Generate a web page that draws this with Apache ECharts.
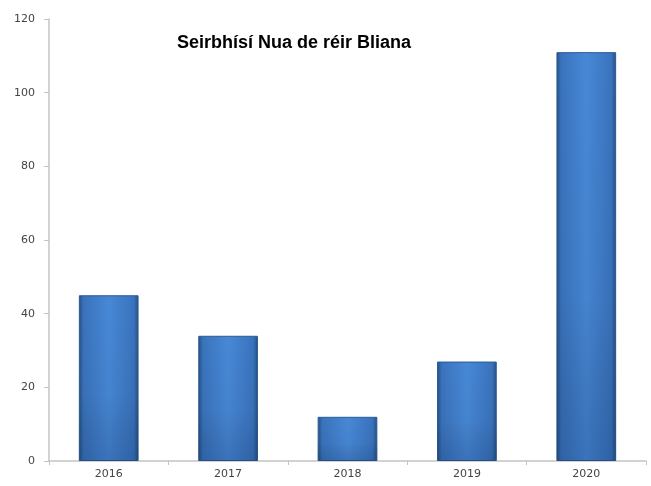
<!DOCTYPE html>
<html>
<head>
<meta charset="utf-8">
<script src="https://cdn.jsdelivr.net/npm/echarts@6/dist/echarts.min.js"></script>
<style>html,body{margin:0;padding:0;background:#fff}#c{width:651px;height:486px}</style>
</head>
<body>
<div id="c"></div>
<script>
var categories = ['2016', '2017', '2018', '2019', '2020'];
var values = [45, 34, 12, 27, 111];
var yTicks = [0, 20, 40, 60, 80, 100, 120];

var chart = echarts.init(document.getElementById('c'));
chart.setOption({
  animation: false,
  backgroundColor: '#fff',
  title: {
    text: 'Seirbhísí Nua de réir Bliana',
    left: 289, top: 29, textAlign: 'center',
    textStyle: {fontFamily: 'Liberation Sans, Arial', fontSize: 18, fontWeight: 'bold', color: '#000'}
  },
  grid: {left: 49, right: 5, top: 19, bottom: 25},
  xAxis: {
    type: 'category', data: categories,
    axisLine: {lineStyle: {color: '#c4c4c4', width: 1.5}},
    axisTick: {show: true, alignWithLabel: false, length: 4, lineStyle: {color: '#c4c4c4'}},
    axisLabel: {color: '#444', fontSize: 11, fontFamily: 'DejaVu Sans', margin: 8}
  },
  yAxis: {
    type: 'value', min: yTicks[0], max: yTicks[yTicks.length - 1], interval: 20,
    axisLine: {show: true, lineStyle: {color: '#c4c4c4', width: 1.5}},
    axisTick: {show: true, length: 5, lineStyle: {color: '#c4c4c4'}},
    splitLine: {show: false},
    axisLabel: {color: '#444', fontSize: 11, fontFamily: 'DejaVu Sans', margin: 14}
  },
  series: [{
    type: 'bar', data: values, barWidth: '50%',
    itemStyle: {
      borderColor: '#2c5a94', borderWidth: 1,
      color: new echarts.graphic.LinearGradient(0, 0, 1, 0, [
        {offset: 0, color: '#23507f'},
        {offset: 0.08, color: '#3a73bd'},
        {offset: 0.5, color: '#4788d6'},
        {offset: 0.92, color: '#3a73bd'},
        {offset: 1, color: '#23507f'}
      ])
    }
  }, {
    type: 'bar', data: values, barWidth: '50%', barGap: '-100%', silent: true,
    itemStyle: {
      color: new echarts.graphic.LinearGradient(0, 0, 0, 1, [
        {offset: 0, color: 'rgba(0,0,0,0)'},
        {offset: 0.6, color: 'rgba(0,0,0,0.03)'},
        {offset: 1, color: 'rgba(0,20,60,0.18)'}
      ])
    }
  }]
});
</script>
</body>
</html>
